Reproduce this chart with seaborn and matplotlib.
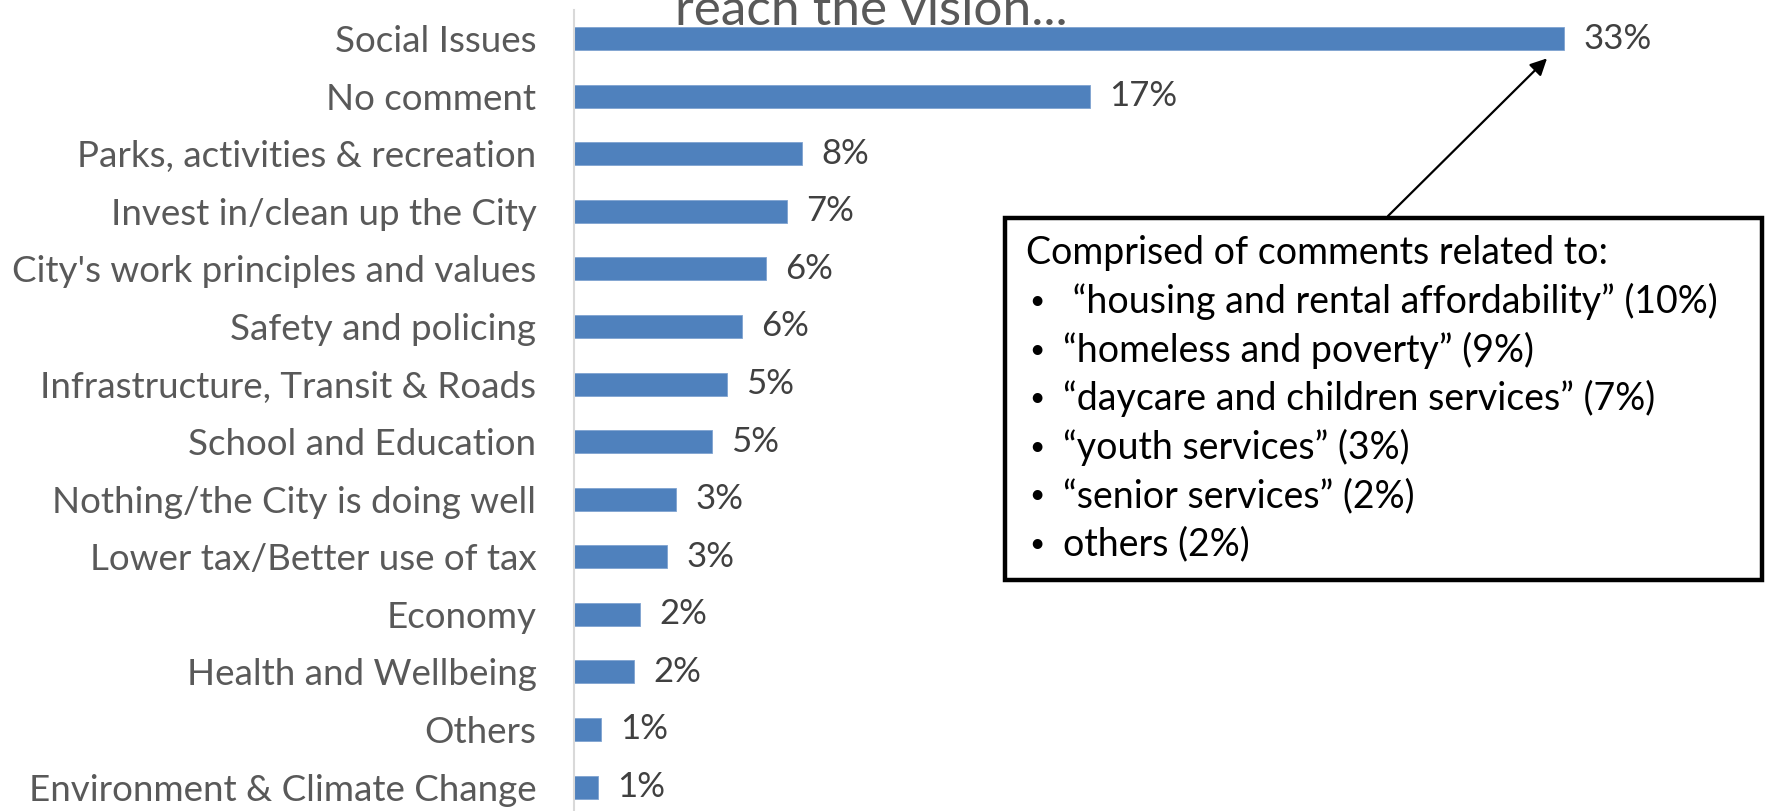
import matplotlib
matplotlib.use("Agg")
import matplotlib.pyplot as plt
import seaborn as sns
import pandas as pd
from matplotlib.patches import Rectangle

categories = [
    "Social Issues",
    "No comment",
    "Parks, activities & recreation",
    "Invest in/clean up the City",
    "City's work principles and values",
    "Safety and policing",
    "Infrastructure, Transit & Roads",
    "School and Education",
    "Nothing/the City is doing well",
    "Lower tax/Better use of tax",
    "Economy",
    "Health and Wellbeing",
    "Others",
    "Environment & Climate Change",
]
shares = [33.0, 17.2, 7.6, 7.1, 6.4, 5.6, 5.1, 4.6, 3.4, 3.1, 2.2, 2.0, 0.9, 0.8]

title_text = "reach the vision..."
note_header = "Comprised of comments related to:"
note_items = [
    " \u201chousing and rental affordability\u201d (10%)",
    "\u201chomeless and poverty\u201d (9%)",
    "\u201cdaycare and children services\u201d (7%)",
    "\u201cyouth services\u201d (3%)",
    "\u201csenior services\u201d (2%)",
    "others (2%)",
]

df = pd.DataFrame({"category": categories, "share": shares})

sns.set_theme(style="white")
plt.rcParams["font.family"] = ["Lato", "DejaVu Sans"]

W, H = 1773, 811
fig = plt.figure(figsize=(W / 100, H / 100), dpi=100)

x0_px = 574
px_per_pct = 30.0
ax_w_px = W - x0_px
ax = fig.add_axes([x0_px / W, -4.8 / H, ax_w_px / W, 806 / H])

sns.barplot(data=df, x="share", y="category", orient="h", color="#4F81BD",
            width=0.4, saturation=1, edgecolor="#7FA3D1", linewidth=0.6, ax=ax)

ax.set_xlim(0, ax_w_px / px_per_pct)
ax.set_ylim(len(categories) - 0.5, -0.5)
ax.set_xlabel("")
ax.set_ylabel("")
ax.set_xticks([])
for s in ["top", "right", "bottom"]:
    ax.spines[s].set_visible(False)
ax.spines["left"].set_color("#D9D9D9")
ax.spines["left"].set_linewidth(1.5)
ax.tick_params(axis="y", length=0, pad=27, labelsize=26.5, labelcolor="#595959")

for i, v in enumerate(shares):
    ax.annotate(f"{round(v):d}%", xy=(v, i), xytext=(14, 0), textcoords="offset points",
                va="center", ha="left", fontsize=25, color="#404040")

fig.text(675 / W, 1 - 25 / H, title_text, fontsize=37, color="#595959",
         ha="left", va="baseline")

# callout box
bx0, by0, bx1, by1 = 1005, 218, 1762, 580
fig.patches.append(Rectangle((bx0 / W, 1 - by1 / H), (bx1 - bx0) / W, (by1 - by0) / H,
                             transform=fig.transFigure, fill=True, facecolor="white",
                             edgecolor="black", linewidth=3.2, zorder=5))
line_y0 = 253
line_dy = 48.6
fig.text(1026 / W, 1 - line_y0 / H, note_header, fontsize=27, color="black",
         ha="left", va="center", zorder=6)
for k, item in enumerate(note_items):
    yy = 1 - (line_y0 + (k + 1) * line_dy) / H
    fig.text(1029 / W, yy, "\u2022", fontsize=19, color="black", ha="left", va="center", zorder=6)
    fig.text(1063 / W, yy, item, fontsize=27, color="black", ha="left", va="center", zorder=6)

ax.annotate("", xy=(32.5, 0.31), xycoords="data",
            xytext=(1386, H - 218), textcoords="figure pixels",
            arrowprops=dict(arrowstyle="-|>", color="black", lw=1.6, mutation_scale=25),
            annotation_clip=False, zorder=6)

fig.savefig("out.png", dpi=100)
